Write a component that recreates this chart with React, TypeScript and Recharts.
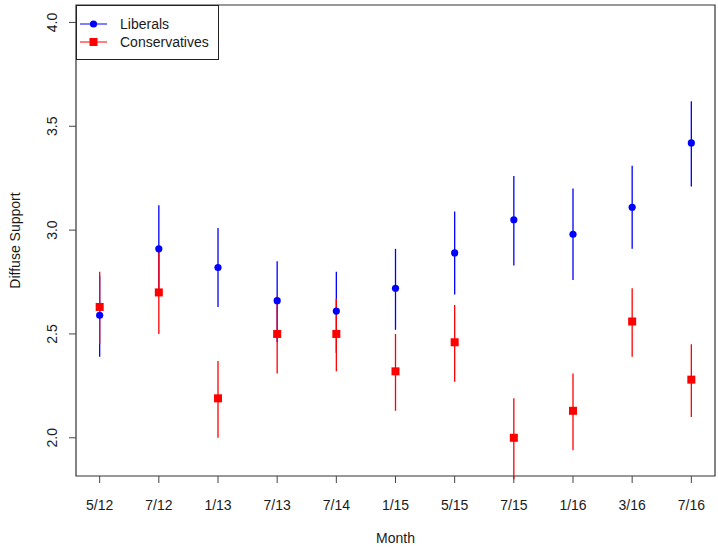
import React from 'react';
import {
    ScatterChart,
    Scatter,
    XAxis,
    YAxis,
    ErrorBar,
    ReferenceArea
} from 'recharts';

const months = ['5/12', '7/12', '1/13', '7/13', '7/14', '1/15', '5/15', '7/15', '1/16', '3/16', '7/16'];

const libMean = [2.59, 2.91, 2.82, 2.66, 2.61, 2.72, 2.89, 3.05, 2.98, 3.11, 3.42];
const libLow = [2.39, 2.70, 2.63, 2.46, 2.41, 2.52, 2.69, 2.83, 2.76, 2.91, 3.21];
const libHigh = [2.78, 3.12, 3.01, 2.85, 2.80, 2.91, 3.09, 3.26, 3.20, 3.31, 3.62];

const conMean = [2.63, 2.70, 2.19, 2.50, 2.50, 2.32, 2.46, 2.00, 2.13, 2.56, 2.28];
const conLow = [2.45, 2.50, 2.00, 2.31, 2.32, 2.13, 2.27, 1.80, 1.94, 2.39, 2.10];
const conHigh = [2.80, 2.90, 2.37, 2.68, 2.67, 2.50, 2.64, 2.19, 2.31, 2.72, 2.45];

const yTicks = [2.0, 2.5, 3.0, 3.5, 4.0];
const xTicks = months.map((_m, i) => i + 1);

const BLUE = '#0000ff';
const RED = '#ff0000';
const FONT = '"Liberation Sans", Arial, sans-serif';
const TEXT = '#1a1a1a';

const build = (mean: number[], low: number[], high: number[]) =>
    mean.map((m, i) => ({ x: i + 1, y: m, err: [m - low[i], high[i] - m] }));

const libData = build(libMean, libLow, libHigh);
const conData = build(conMean, conLow, conHigh);

const X_DOMAIN = [0.6, 11.4];
const Y_DOMAIN = [1.816, 4.084];

const Empty = () => <g />;

const Dot = (props: any) => <circle cx={props.cx} cy={props.cy} r={3.6} fill={BLUE} />;
const Square = (props: any) => (
    <rect x={props.cx - 4} y={props.cy - 4} width={8} height={8} fill={RED} />
);

const XTick = ({ x, y, payload }: any) => (
    <text x={x} y={y} dy={27} textAnchor="middle" fontSize={14} fontFamily={FONT} fill={TEXT}>
        {months[payload.value - 1]}
    </text>
);

const YTick = ({ x, y, payload }: any) => (
    <text
        x={x - 12}
        y={y}
        textAnchor="middle"
        transform={`rotate(-90, ${x - 12}, ${y})`}
        fontSize={14}
        fontFamily={FONT}
        fill={TEXT}
    >
        {Number(payload.value).toFixed(1)}
    </text>
);

// legend box drawn over the top-left corner of the plot, like R's legend("topleft")
const LegendBox = () => (
    <svg width={143} height={55} style={{ position: 'absolute', left: 76, top: 5, display: 'block' }}>
        <rect x={0.5} y={0.5} width={142} height={54} fill="white" stroke="#222" />
        <line x1={4} x2={31} y1={19} y2={19} stroke={BLUE} strokeWidth={1} />
        <circle cx={17.5} cy={19} r={3.6} fill={BLUE} />
        <text x={44} y={24} fontSize={14} fontFamily={FONT} fill={TEXT}>Liberals</text>
        <line x1={4} x2={31} y1={37} y2={37} stroke={RED} strokeWidth={1} />
        <rect x={13.5} y={33} width={8} height={8} fill={RED} />
        <text x={44} y={42} fontSize={14} fontFamily={FONT} fill={TEXT}>Conservatives</text>
    </svg>
);

export default function App() {
    return (
        <div style={{ position: 'absolute', left: 0, top: 0, width: 718, height: 550, background: 'white' }}>
            <ScatterChart width={718} height={550} margin={{ top: 5, right: 3, left: 0, bottom: 0 }}>
                <XAxis
                    type="number"
                    dataKey="x"
                    domain={X_DOMAIN}
                    ticks={xTicks}
                    interval={0}
                    allowDataOverflow
                    height={74}
                    axisLine={false}
                    tickSize={7}
                    tickMargin={0}
                    tickLine={{ stroke: '#444' }}
                    tick={<XTick />}
                    label={{
                        content: ({ viewBox }: any) => (
                            <text
                                x={viewBox.x + viewBox.width / 2}
                                y={viewBox.y + 67}
                                textAnchor="middle"
                                fontSize={14}
                                fontFamily={FONT}
                                fill={TEXT}
                            >
                                Month
                            </text>
                        )
                    }}
                />
                <YAxis
                    type="number"
                    dataKey="y"
                    domain={Y_DOMAIN}
                    ticks={yTicks}
                    interval={0}
                    allowDataOverflow
                    width={76}
                    axisLine={false}
                    tickSize={7}
                    tickMargin={0}
                    tickLine={{ stroke: '#444' }}
                    tick={<YTick />}
                    label={{
                        content: ({ viewBox }: any) => {
                            const cx = viewBox.x + 20;
                            const cy = viewBox.y + viewBox.height / 2;
                            return (
                                <text
                                    x={cx}
                                    y={cy}
                                    textAnchor="middle"
                                    transform={`rotate(-90, ${cx}, ${cy})`}
                                    fontSize={14}
                                    fontFamily={FONT}
                                    fill={TEXT}
                                >
                                    Diffuse Support
                                </text>
                            );
                        }
                    }}
                />
                <ReferenceArea
                    x1={X_DOMAIN[0]}
                    x2={X_DOMAIN[1]}
                    y1={Y_DOMAIN[0]}
                    y2={Y_DOMAIN[1]}
                    fill="none"
                    stroke="#333"
                    strokeWidth={1.2}
                />
                <Scatter data={libData} shape={<Empty />} isAnimationActive={false}>
                    <ErrorBar dataKey="err" direction="y" width={0} stroke={BLUE} strokeWidth={1.3} isAnimationActive={false} />
                </Scatter>
                <Scatter data={conData} shape={<Empty />} isAnimationActive={false}>
                    <ErrorBar dataKey="err" direction="y" width={0} stroke={RED} strokeWidth={1.3} isAnimationActive={false} />
                </Scatter>
                <Scatter data={libData} shape={<Dot />} isAnimationActive={false} />
                <Scatter data={conData} shape={<Square />} isAnimationActive={false} />
            </ScatterChart>
            <LegendBox />
        </div>
    );
}
